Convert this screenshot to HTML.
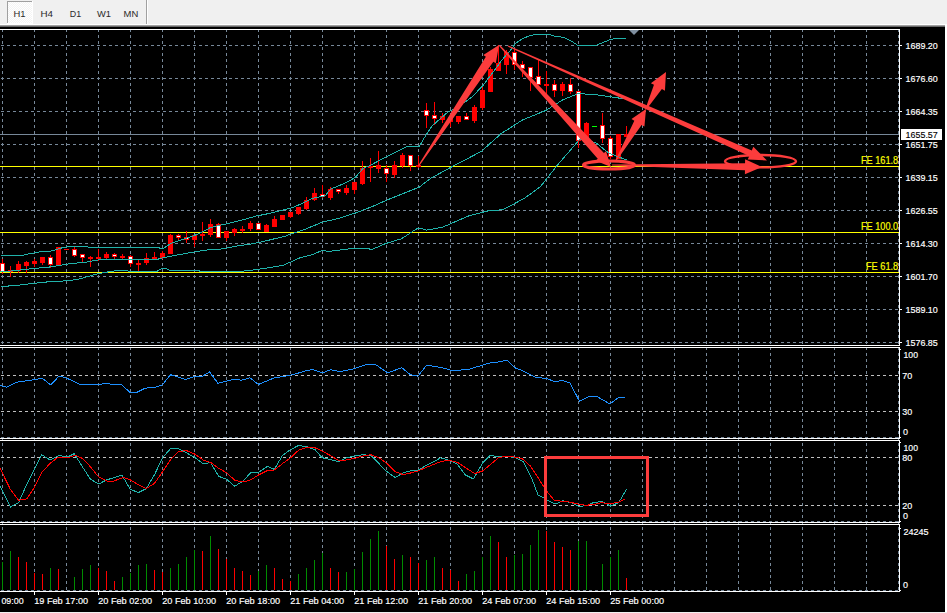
<!DOCTYPE html><html><head><meta charset="utf-8"><style>
html,body{margin:0;padding:0;width:947px;height:613px;overflow:hidden;background:#f0f0f0;}
svg{display:block;position:absolute;left:0;top:0;}
</style></head><body>
<svg width="947" height="613" viewBox="0 0 947 613" font-family='"Liberation Sans", sans-serif'>
<rect x="0" y="0" width="947" height="24" fill="#f0f0f0"/>
<rect x="0" y="24" width="947" height="1" fill="#ffffff"/>
<rect x="0" y="25" width="945" height="1" fill="#a0a0a0"/>
<rect x="0" y="26" width="945" height="1" fill="#6a6a6a"/>
<defs><pattern id="dith" width="2" height="2" patternUnits="userSpaceOnUse"><rect width="2" height="2" fill="#f4f4f4"/><rect width="1" height="1" fill="#ffffff"/><rect x="1" y="1" width="1" height="1" fill="#ffffff"/></pattern></defs>
<rect x="7" y="1" width="26" height="23" fill="url(#dith)"/>
<rect x="7" y="1" width="25" height="1" fill="#a0a0a0"/>
<rect x="7" y="1" width="1" height="22" fill="#a0a0a0"/>
<rect x="7" y="23" width="26" height="1" fill="#ffffff"/>
<rect x="32" y="1" width="1" height="23" fill="#ffffff"/>
<text x="13.5" y="17" font-size="9.8" fill="#2a2a2a" textLength="12" lengthAdjust="spacingAndGlyphs">H1</text>
<text x="40.5" y="17" font-size="9.8" fill="#2a2a2a" textLength="12.5" lengthAdjust="spacingAndGlyphs">H4</text>
<text x="69.8" y="17" font-size="9.8" fill="#2a2a2a" textLength="11.4" lengthAdjust="spacingAndGlyphs">D1</text>
<text x="97" y="17" font-size="9.8" fill="#2a2a2a" textLength="14" lengthAdjust="spacingAndGlyphs">W1</text>
<text x="123.6" y="17" font-size="9.8" fill="#2a2a2a" textLength="14.7" lengthAdjust="spacingAndGlyphs">MN</text>
<rect x="146" y="0" width="1" height="24" fill="#a0a0a0"/>
<rect x="147" y="0" width="1" height="24" fill="#ffffff"/>
<rect x="0" y="27" width="945" height="585" fill="#000000"/>
<rect x="945" y="25" width="2" height="588" fill="#ffffff"/>
<rect x="0" y="612" width="947" height="1" fill="#f0f0f0"/>
<g shape-rendering="crispEdges"><line x1="0" y1="45.5" x2="899" y2="45.5" stroke="#778899" stroke-width="1" stroke-dasharray="3 3" stroke-dashoffset="5"/><line x1="0" y1="78.5" x2="899" y2="78.5" stroke="#778899" stroke-width="1" stroke-dasharray="3 3" stroke-dashoffset="5"/><line x1="0" y1="111.5" x2="899" y2="111.5" stroke="#778899" stroke-width="1" stroke-dasharray="3 3" stroke-dashoffset="5"/><line x1="0" y1="144.5" x2="899" y2="144.5" stroke="#778899" stroke-width="1" stroke-dasharray="3 3" stroke-dashoffset="5"/><line x1="0" y1="177.5" x2="899" y2="177.5" stroke="#778899" stroke-width="1" stroke-dasharray="3 3" stroke-dashoffset="5"/><line x1="0" y1="210.5" x2="899" y2="210.5" stroke="#778899" stroke-width="1" stroke-dasharray="3 3" stroke-dashoffset="5"/><line x1="0" y1="243.5" x2="899" y2="243.5" stroke="#778899" stroke-width="1" stroke-dasharray="3 3" stroke-dashoffset="5"/><line x1="0" y1="276.5" x2="899" y2="276.5" stroke="#778899" stroke-width="1" stroke-dasharray="3 3" stroke-dashoffset="5"/><line x1="0" y1="309.5" x2="899" y2="309.5" stroke="#778899" stroke-width="1" stroke-dasharray="3 3" stroke-dashoffset="5"/><line x1="0" y1="342.5" x2="899" y2="342.5" stroke="#778899" stroke-width="1" stroke-dasharray="3 3" stroke-dashoffset="5"/><line x1="0" y1="437.5" x2="899" y2="437.5" stroke="#778899" stroke-width="1" stroke-dasharray="3 3" stroke-dashoffset="5"/><line x1="0" y1="521.5" x2="899" y2="521.5" stroke="#778899" stroke-width="1" stroke-dasharray="3 3" stroke-dashoffset="5"/><line x1="0" y1="590.5" x2="899" y2="590.5" stroke="#778899" stroke-width="1" stroke-dasharray="3 3" stroke-dashoffset="5"/><line x1="2.5" y1="29" x2="2.5" y2="591" stroke="#778899" stroke-width="1" stroke-dasharray="3 3"/><line x1="34.5" y1="29" x2="34.5" y2="591" stroke="#778899" stroke-width="1" stroke-dasharray="3 3"/><line x1="66.5" y1="29" x2="66.5" y2="591" stroke="#778899" stroke-width="1" stroke-dasharray="3 3"/><line x1="98.5" y1="29" x2="98.5" y2="591" stroke="#778899" stroke-width="1" stroke-dasharray="3 3"/><line x1="130.5" y1="29" x2="130.5" y2="591" stroke="#778899" stroke-width="1" stroke-dasharray="3 3"/><line x1="162.5" y1="29" x2="162.5" y2="591" stroke="#778899" stroke-width="1" stroke-dasharray="3 3"/><line x1="194.5" y1="29" x2="194.5" y2="591" stroke="#778899" stroke-width="1" stroke-dasharray="3 3"/><line x1="226.5" y1="29" x2="226.5" y2="591" stroke="#778899" stroke-width="1" stroke-dasharray="3 3"/><line x1="258.5" y1="29" x2="258.5" y2="591" stroke="#778899" stroke-width="1" stroke-dasharray="3 3"/><line x1="290.5" y1="29" x2="290.5" y2="591" stroke="#778899" stroke-width="1" stroke-dasharray="3 3"/><line x1="322.5" y1="29" x2="322.5" y2="591" stroke="#778899" stroke-width="1" stroke-dasharray="3 3"/><line x1="354.5" y1="29" x2="354.5" y2="591" stroke="#778899" stroke-width="1" stroke-dasharray="3 3"/><line x1="386.5" y1="29" x2="386.5" y2="591" stroke="#778899" stroke-width="1" stroke-dasharray="3 3"/><line x1="418.5" y1="29" x2="418.5" y2="591" stroke="#778899" stroke-width="1" stroke-dasharray="3 3"/><line x1="450.5" y1="29" x2="450.5" y2="591" stroke="#778899" stroke-width="1" stroke-dasharray="3 3"/><line x1="482.5" y1="29" x2="482.5" y2="591" stroke="#778899" stroke-width="1" stroke-dasharray="3 3"/><line x1="514.5" y1="29" x2="514.5" y2="591" stroke="#778899" stroke-width="1" stroke-dasharray="3 3"/><line x1="546.5" y1="29" x2="546.5" y2="591" stroke="#778899" stroke-width="1" stroke-dasharray="3 3"/><line x1="578.5" y1="29" x2="578.5" y2="591" stroke="#778899" stroke-width="1" stroke-dasharray="3 3"/><line x1="610.5" y1="29" x2="610.5" y2="591" stroke="#778899" stroke-width="1" stroke-dasharray="3 3"/><line x1="642.5" y1="29" x2="642.5" y2="591" stroke="#778899" stroke-width="1" stroke-dasharray="3 3"/><line x1="674.5" y1="29" x2="674.5" y2="591" stroke="#778899" stroke-width="1" stroke-dasharray="3 3"/><line x1="706.5" y1="29" x2="706.5" y2="591" stroke="#778899" stroke-width="1" stroke-dasharray="3 3"/><line x1="738.5" y1="29" x2="738.5" y2="591" stroke="#778899" stroke-width="1" stroke-dasharray="3 3"/><line x1="770.5" y1="29" x2="770.5" y2="591" stroke="#778899" stroke-width="1" stroke-dasharray="3 3"/><line x1="802.5" y1="29" x2="802.5" y2="591" stroke="#778899" stroke-width="1" stroke-dasharray="3 3"/><line x1="834.5" y1="29" x2="834.5" y2="591" stroke="#778899" stroke-width="1" stroke-dasharray="3 3"/><line x1="866.5" y1="29" x2="866.5" y2="591" stroke="#778899" stroke-width="1" stroke-dasharray="3 3"/><line x1="898.5" y1="29" x2="898.5" y2="591" stroke="#778899" stroke-width="1" stroke-dasharray="3 3"/><line x1="0" y1="375.5" x2="899" y2="375.5" stroke="#c0c0c0" stroke-width="1" stroke-dasharray="3 3" stroke-dashoffset="5"/><line x1="0" y1="411.5" x2="899" y2="411.5" stroke="#c0c0c0" stroke-width="1" stroke-dasharray="3 3" stroke-dashoffset="5"/><line x1="0" y1="457.5" x2="899" y2="457.5" stroke="#c0c0c0" stroke-width="1" stroke-dasharray="3 3" stroke-dashoffset="5"/><line x1="0" y1="505.5" x2="899" y2="505.5" stroke="#c0c0c0" stroke-width="1" stroke-dasharray="3 3" stroke-dashoffset="5"/></g>
<g shape-rendering="crispEdges">
<rect x="0" y="166" width="899" height="1" fill="#ffff00"/>
<rect x="0" y="232" width="899" height="1" fill="#ffff00"/>
<rect x="0" y="272" width="899" height="1" fill="#ffff00"/>
<rect x="0" y="134" width="899" height="1" fill="#778899"/>
</g>
<g shape-rendering="crispEdges"><rect x="2" y="259" width="1" height="15" fill="#ff0000"/><rect x="0" y="263" width="5" height="9" fill="#ff0000"/><rect x="1" y="264" width="3" height="7" fill="#ffffff"/><rect x="10" y="266" width="1" height="11" fill="#ff0000"/><rect x="8" y="270" width="5" height="2" fill="#ff0000"/><rect x="18" y="261" width="1" height="12" fill="#ff0000"/><rect x="16" y="264" width="5" height="7" fill="#ff0000"/><rect x="26" y="261" width="1" height="12" fill="#ff0000"/><rect x="24" y="262" width="5" height="4" fill="#ff0000"/><rect x="34" y="259" width="1" height="8" fill="#ff0000"/><rect x="32" y="261" width="5" height="3" fill="#ff0000"/><rect x="42" y="257" width="1" height="8" fill="#ff0000"/><rect x="40" y="257" width="5" height="6" fill="#ff0000"/><rect x="50" y="255" width="1" height="13" fill="#ff0000"/><rect x="48" y="257" width="5" height="8" fill="#ff0000"/><rect x="49" y="258" width="3" height="6" fill="#ffffff"/><rect x="58" y="247" width="1" height="19" fill="#ff0000"/><rect x="56" y="247" width="5" height="19" fill="#ff0000"/><rect x="66" y="249" width="1" height="1" fill="#ff0000"/><rect x="64" y="249" width="5" height="1" fill="#ff0000"/><rect x="74" y="247" width="1" height="10" fill="#ff0000"/><rect x="72" y="249" width="5" height="7" fill="#ff0000"/><rect x="73" y="250" width="3" height="5" fill="#ffffff"/><rect x="82" y="254" width="1" height="8" fill="#ff0000"/><rect x="80" y="254" width="5" height="4" fill="#ff0000"/><rect x="81" y="255" width="3" height="2" fill="#ffffff"/><rect x="90" y="256" width="1" height="11" fill="#ff0000"/><rect x="88" y="257" width="5" height="2" fill="#ff0000"/><rect x="98" y="249" width="1" height="12" fill="#ff0000"/><rect x="96" y="257" width="5" height="2" fill="#ff0000"/><rect x="106" y="252" width="1" height="8" fill="#ff0000"/><rect x="104" y="254" width="5" height="4" fill="#ff0000"/><rect x="114" y="253" width="1" height="7" fill="#ff0000"/><rect x="112" y="254" width="5" height="3" fill="#ff0000"/><rect x="113" y="255" width="3" height="1" fill="#ffffff"/><rect x="122" y="254" width="1" height="6" fill="#ff0000"/><rect x="120" y="256" width="5" height="2" fill="#ff0000"/><rect x="130" y="255" width="1" height="12" fill="#ff0000"/><rect x="128" y="256" width="5" height="8" fill="#ff0000"/><rect x="129" y="257" width="3" height="6" fill="#ffffff"/><rect x="138" y="260" width="1" height="11" fill="#ff0000"/><rect x="136" y="263" width="5" height="2" fill="#ff0000"/><rect x="146" y="253" width="1" height="12" fill="#ff0000"/><rect x="144" y="258" width="5" height="5" fill="#ff0000"/><rect x="154" y="252" width="1" height="8" fill="#ff0000"/><rect x="152" y="257" width="5" height="3" fill="#ff0000"/><rect x="162" y="251" width="1" height="8" fill="#ff0000"/><rect x="160" y="253" width="5" height="5" fill="#ff0000"/><rect x="170" y="234" width="1" height="20" fill="#ff0000"/><rect x="168" y="235" width="5" height="19" fill="#ff0000"/><rect x="178" y="234" width="1" height="7" fill="#ff0000"/><rect x="176" y="235" width="5" height="3" fill="#ff0000"/><rect x="177" y="236" width="3" height="1" fill="#ffffff"/><rect x="186" y="231" width="1" height="12" fill="#ff0000"/><rect x="184" y="237" width="5" height="3" fill="#ff0000"/><rect x="185" y="238" width="3" height="1" fill="#ffffff"/><rect x="194" y="235" width="1" height="12" fill="#ff0000"/><rect x="192" y="235" width="5" height="5" fill="#ff0000"/><rect x="202" y="222" width="1" height="19" fill="#ff0000"/><rect x="200" y="234" width="5" height="2" fill="#ff0000"/><rect x="210" y="219" width="1" height="18" fill="#ff0000"/><rect x="208" y="224" width="5" height="11" fill="#ff0000"/><rect x="218" y="223" width="1" height="15" fill="#ff0000"/><rect x="216" y="224" width="5" height="14" fill="#ff0000"/><rect x="217" y="225" width="3" height="12" fill="#ffffff"/><rect x="226" y="231" width="1" height="10" fill="#ff0000"/><rect x="224" y="231" width="5" height="7" fill="#ff0000"/><rect x="234" y="228" width="1" height="8" fill="#ff0000"/><rect x="232" y="229" width="5" height="4" fill="#ff0000"/><rect x="242" y="226" width="1" height="7" fill="#ff0000"/><rect x="240" y="229" width="5" height="2" fill="#ff0000"/><rect x="250" y="221" width="1" height="10" fill="#ff0000"/><rect x="248" y="223" width="5" height="6" fill="#ff0000"/><rect x="258" y="223" width="1" height="7" fill="#ff0000"/><rect x="256" y="223" width="5" height="7" fill="#ff0000"/><rect x="257" y="224" width="3" height="5" fill="#ffffff"/><rect x="266" y="224" width="1" height="8" fill="#ff0000"/><rect x="264" y="225" width="5" height="7" fill="#ff0000"/><rect x="274" y="216" width="1" height="11" fill="#ff0000"/><rect x="272" y="219" width="5" height="8" fill="#ff0000"/><rect x="282" y="215" width="1" height="5" fill="#ff0000"/><rect x="280" y="215" width="5" height="5" fill="#ff0000"/><rect x="290" y="212" width="1" height="6" fill="#ff0000"/><rect x="288" y="212" width="5" height="5" fill="#ff0000"/><rect x="298" y="207" width="1" height="8" fill="#ff0000"/><rect x="296" y="207" width="5" height="7" fill="#ff0000"/><rect x="306" y="197" width="1" height="13" fill="#ff0000"/><rect x="304" y="200" width="5" height="9" fill="#ff0000"/><rect x="314" y="188" width="1" height="13" fill="#ff0000"/><rect x="312" y="193" width="5" height="7" fill="#ff0000"/><rect x="322" y="185" width="1" height="13" fill="#ff0000"/><rect x="320" y="194" width="5" height="3" fill="#ff0000"/><rect x="321" y="195" width="3" height="1" fill="#ffffff"/><rect x="330" y="187" width="1" height="13" fill="#ff0000"/><rect x="328" y="189" width="5" height="9" fill="#ff0000"/><rect x="338" y="189" width="1" height="5" fill="#ff0000"/><rect x="336" y="189" width="5" height="3" fill="#ff0000"/><rect x="337" y="190" width="3" height="1" fill="#ffffff"/><rect x="346" y="185" width="1" height="10" fill="#ff0000"/><rect x="344" y="188" width="5" height="5" fill="#ff0000"/><rect x="354" y="182" width="1" height="12" fill="#ff0000"/><rect x="352" y="182" width="5" height="8" fill="#ff0000"/><rect x="362" y="161" width="1" height="24" fill="#ff0000"/><rect x="360" y="168" width="5" height="16" fill="#ff0000"/><rect x="370" y="158" width="1" height="24" fill="#ff0000"/><rect x="368" y="166" width="5" height="2" fill="#ff0000"/><rect x="378" y="151" width="1" height="22" fill="#ff0000"/><rect x="376" y="165" width="5" height="4" fill="#ff0000"/><rect x="386" y="165" width="1" height="17" fill="#ff0000"/><rect x="384" y="168" width="5" height="6" fill="#ff0000"/><rect x="385" y="169" width="3" height="4" fill="#ffffff"/><rect x="394" y="161" width="1" height="17" fill="#ff0000"/><rect x="392" y="165" width="5" height="10" fill="#ff0000"/><rect x="402" y="153" width="1" height="15" fill="#ff0000"/><rect x="400" y="155" width="5" height="11" fill="#ff0000"/><rect x="410" y="155" width="1" height="16" fill="#ff0000"/><rect x="408" y="155" width="5" height="11" fill="#ff0000"/><rect x="409" y="156" width="3" height="9" fill="#ffffff"/><rect x="418" y="156" width="1" height="12" fill="#ff0000"/><rect x="416" y="165" width="5" height="2" fill="#ff0000"/><rect x="426" y="103" width="1" height="25" fill="#ff0000"/><rect x="424" y="110" width="5" height="6" fill="#ff0000"/><rect x="425" y="111" width="3" height="4" fill="#ffffff"/><rect x="434" y="102" width="1" height="23" fill="#ff0000"/><rect x="432" y="115" width="5" height="4" fill="#ff0000"/><rect x="433" y="116" width="3" height="2" fill="#ffffff"/><rect x="442" y="113" width="1" height="10" fill="#ff0000"/><rect x="440" y="116" width="5" height="4" fill="#ff0000"/><rect x="450" y="117" width="1" height="10" fill="#ff0000"/><rect x="448" y="117" width="5" height="5" fill="#ff0000"/><rect x="458" y="116" width="1" height="8" fill="#ff0000"/><rect x="456" y="116" width="5" height="6" fill="#ff0000"/><rect x="466" y="113" width="1" height="7" fill="#ff0000"/><rect x="464" y="116" width="5" height="4" fill="#ff0000"/><rect x="465" y="117" width="3" height="2" fill="#ffffff"/><rect x="474" y="105" width="1" height="18" fill="#ff0000"/><rect x="472" y="107" width="5" height="14" fill="#ff0000"/><rect x="482" y="87" width="1" height="23" fill="#ff0000"/><rect x="480" y="90" width="5" height="18" fill="#ff0000"/><rect x="490" y="67" width="1" height="25" fill="#ff0000"/><rect x="488" y="69" width="5" height="23" fill="#ff0000"/><rect x="498" y="45" width="1" height="26" fill="#ff0000"/><rect x="496" y="63" width="5" height="8" fill="#ff0000"/><rect x="506" y="50" width="1" height="24" fill="#ff0000"/><rect x="504" y="52" width="5" height="13" fill="#ff0000"/><rect x="514" y="49" width="1" height="21" fill="#ff0000"/><rect x="512" y="52" width="5" height="13" fill="#ff0000"/><rect x="513" y="53" width="3" height="11" fill="#ffffff"/><rect x="522" y="61" width="1" height="16" fill="#ff0000"/><rect x="520" y="64" width="5" height="5" fill="#ff0000"/><rect x="521" y="65" width="3" height="3" fill="#ffffff"/><rect x="530" y="67" width="1" height="24" fill="#ff0000"/><rect x="528" y="67" width="5" height="11" fill="#ff0000"/><rect x="529" y="68" width="3" height="9" fill="#ffffff"/><rect x="538" y="60" width="1" height="25" fill="#ff0000"/><rect x="536" y="76" width="5" height="9" fill="#ff0000"/><rect x="537" y="77" width="3" height="7" fill="#ffffff"/><rect x="546" y="71" width="1" height="23" fill="#ff0000"/><rect x="544" y="84" width="5" height="2" fill="#ff0000"/><rect x="554" y="80" width="1" height="17" fill="#ff0000"/><rect x="552" y="84" width="5" height="7" fill="#ff0000"/><rect x="553" y="85" width="3" height="5" fill="#ffffff"/><rect x="562" y="82" width="1" height="14" fill="#ff0000"/><rect x="560" y="84" width="5" height="7" fill="#ff0000"/><rect x="570" y="78" width="1" height="16" fill="#ff0000"/><rect x="568" y="84" width="5" height="8" fill="#ff0000"/><rect x="569" y="85" width="3" height="6" fill="#ffffff"/><rect x="578" y="91" width="1" height="57" fill="#ff0000"/><rect x="576" y="91" width="5" height="50" fill="#ff0000"/><rect x="577" y="92" width="3" height="48" fill="#ffffff"/><rect x="586" y="122" width="1" height="17" fill="#ff0000"/><rect x="584" y="123" width="5" height="16" fill="#ff0000"/><rect x="592" y="126" width="5" height="1" fill="#00ff00"/><rect x="602" y="113" width="1" height="30" fill="#ff0000"/><rect x="600" y="125" width="5" height="14" fill="#ff0000"/><rect x="601" y="126" width="3" height="12" fill="#ffffff"/><rect x="610" y="136" width="1" height="23" fill="#ff0000"/><rect x="608" y="138" width="5" height="19" fill="#ff0000"/><rect x="609" y="139" width="3" height="17" fill="#ffffff"/><rect x="618" y="134" width="1" height="25" fill="#ff0000"/><rect x="616" y="134" width="5" height="25" fill="#ff0000"/><rect x="626" y="126" width="1" height="11" fill="#ff0000"/><rect x="624" y="134" width="5" height="3" fill="#ff0000"/></g>
<polyline points="0.5,255.5 22.5,255.5 29.5,253.7 39.5,252.0 51.5,251.0 56.5,249.4 64.5,247.2 71.5,246.4 87.1,246.4 88.2,247.4 159.5,247.4 160.0,248.5 163.2,248.5 170.5,243.6 194.8,235.3 203.2,231.6 209.5,228.0 214.8,226.4 227.5,223.7 244.4,219.5 255.0,216.3 270.5,213.2 292.5,207.6 300.5,204.2 312.2,198.3 325.3,195.7 330.5,189.2 346.2,182.6 355.3,177.4 363.2,168.3 369.7,165.7 383.5,158.1 404.5,147.6 409.7,146.0 419.5,146.0 426.6,134.0 431.9,126.1 447.5,112.4 452.2,110.0 466.5,101.0 472.5,96.6 483.5,84.8 495.3,69.2 501.9,60.0 511.0,49.6 515.5,43.5 522.4,38.7 529.2,35.9 535.4,34.3 548.5,34.3 555.3,36.3 563.5,37.3 570.4,40.5 578.6,45.9 582.8,45.5 596.5,45.1 610.2,39.6 615.7,38.4 626.0,38.4" fill="none" stroke="#20b2aa" stroke-width="1" stroke-linejoin="round" shape-rendering="crispEdges"/>
<polyline points="0.5,271.4 14.0,270.9 22.5,269.7 34.5,268.5 51.5,266.8 61.5,265.1 71.5,263.5 86.1,262.2 94.5,260.6 103.0,259.2 157.9,259.2 160.0,258.5 167.4,256.9 175.5,255.3 197.5,251.4 209.3,249.7 222.5,248.9 237.4,246.0 249.2,244.3 261.0,242.1 286.2,235.9 290.5,234.1 306.3,228.8 322.2,222.2 339.6,218.2 355.5,213.0 372.9,206.3 387.1,200.0 419.5,187.0 430.5,178.4 450.5,167.5 481.5,151.3 501.0,133.7 522.5,120.0 545.5,110.6 562.5,100.0 578.5,93.5 597.5,95.0 609.5,96.7 620.5,98.3 626.5,99.0" fill="none" stroke="#20b2aa" stroke-width="1" stroke-linejoin="round" shape-rendering="crispEdges"/>
<polyline points="0.5,286.3 14.0,285.8 30.5,283.7 47.5,281.9 68.5,280.7 79.5,279.0 95.5,274.3 101.5,273.1 110.3,271.5 118.8,270.3 127.2,270.3 128.3,271.5 156.8,271.5 162.1,268.3 165.3,268.3 169.5,270.3 198.9,270.7 200.5,271.7 238.9,271.7 246.2,270.7 256.5,269.6 271.4,267.3 283.2,265.2 290.5,262.1 300.0,257.8 312.7,254.6 322.2,250.4 328.5,251.5 342.8,249.6 353.9,248.3 368.1,248.8 372.1,249.4 385.5,243.6 401.4,238.8 417.2,228.5 419.6,228.2 426.7,230.1 442.3,227.3 469.5,215.6 487.5,211.0 503.0,209.7 524.5,198.3 540.5,186.6 557.5,165.0 579.5,139.6 595.5,142.4 608.5,152.9 626.5,160.0" fill="none" stroke="#20b2aa" stroke-width="1" stroke-linejoin="round" shape-rendering="crispEdges"/>
<polygon points="629,30 639,30 634,35" fill="#8090a0"/>
<polygon points="419.00,166.33 493.33,61.65 495.83,63.31 499.00,45.00 483.34,55.00 485.84,56.66 418.00,165.67" fill="#fc3c3c"/>
<polygon points="499.06,45.91 597.76,158.79 595.70,160.68 611.00,167.00 606.02,151.22 603.95,153.11 499.94,45.09" fill="#fc3c3c"/>
<polygon points="507.76,46.55 749.32,155.97 747.71,159.62 767.00,160.50 753.37,146.82 751.75,150.48 508.24,45.45" fill="#fc3c3c"/>
<polygon points="616.52,160.80 641.58,124.94 644.43,126.60 646.00,109.00 631.47,119.05 634.32,120.71 615.48,160.20" fill="#fc3c3c"/>
<polygon points="646.53,109.29 661.87,89.09 664.95,90.76 666.00,72.00 650.88,83.15 653.96,84.82 645.47,108.71" fill="#fc3c3c"/>
<polygon points="611.99,165.60 744.95,170.27 744.90,174.27 762.00,167.00 745.10,159.27 745.05,163.27 612.01,164.40" fill="#fc3c3c"/>
<ellipse cx="609" cy="165" rx="25.6" ry="4" fill="none" stroke="#fc3c3c" stroke-width="3"/>
<ellipse cx="760.5" cy="161.2" rx="35.5" ry="6.2" fill="none" stroke="#fc3c3c" stroke-width="2.4"/>
<polyline points="0.0,385.5 6.8,387.2 16.9,382.2 33.8,379.8 42.2,378.1 50.7,384.9 59.1,376.1 65.9,377.8 81.1,384.9 98.0,384.9 106.4,383.2 113.2,384.9 121.6,384.9 130.0,392.3 136.8,392.3 145.3,388.2 155.4,387.2 162.2,384.9 170.6,374.7 185.8,379.5 194.3,376.4 202.7,376.1 209.5,372.0 217.9,383.2 233.1,379.5 241.6,380.1 250.0,377.8 258.4,384.5 273.6,378.1 283.8,376.4 293.9,374.4 307.4,370.3 313.3,369.7 322.8,372.8 330.4,369.7 339.9,371.6 353.2,369.0 368.4,364.0 376.0,364.8 387.5,372.8 401.9,367.8 410.3,374.7 417.9,376.2 426.6,365.2 442.6,367.8 452.1,370.5 467.3,369.7 490.1,362.9 497.7,362.1 507.2,360.2 514.8,367.8 520.5,369.7 535.7,377.3 547.1,378.5 554.8,381.9 562.4,380.4 570.0,383.0 579.5,401.3 589.0,396.3 596.6,396.3 609.9,403.9 618.6,397.5 625.1,397.1" fill="none" stroke="#1e90ff" stroke-width="1" stroke-linejoin="round" shape-rendering="crispEdges"/>
<polyline points="0.0,485.6 10.5,507.0 18.6,502.6 26.7,484.5 34.8,468.2 41.8,454.7 49.9,460.0 59.2,455.4 67.4,457.0 74.3,453.6 82.5,467.0 90.6,479.3 98.7,484.0 106.9,479.8 122.0,475.2 130.1,489.1 138.2,492.6 146.3,488.6 154.5,474.7 162.6,457.7 170.7,448.5 178.9,448.9 187.0,453.1 195.1,457.7 203.3,464.0 210.5,462.4 218.6,476.3 226.7,479.3 234.8,486.3 243.0,481.0 251.1,472.4 258.1,472.8 267.4,466.3 274.3,469.4 282.5,455.4 290.6,449.6 298.7,445.4 306.9,446.8 315.0,449.6 322.0,457.7 330.1,459.4 338.2,461.7 346.3,457.7 354.5,456.1 362.6,454.7 370.7,455.4 378.9,463.6 387.0,471.7 395.1,477.5 403.3,472.8 411.4,470.5 417.9,470.2 425.8,465.7 433.8,461.8 440.4,457.8 449.6,460.4 457.5,464.4 465.4,475.0 473.4,478.9 482.6,463.1 490.5,455.2 498.4,457.0 507.7,456.5 515.6,457.8 523.5,461.8 531.4,477.6 538.0,494.8 547.3,500.0 555.2,504.0 563.1,500.8 571.0,502.7 579.0,506.6 586.9,505.3 594.8,502.1 602.7,501.9 610.6,506.1 618.6,502.7 626.5,489.5" fill="none" stroke="#20b2aa" stroke-width="1" stroke-linejoin="round" shape-rendering="crispEdges"/>
<polyline points="0.0,468.2 10.5,489.6 18.6,500.3 26.7,498.9 34.8,486.8 41.8,472.4 49.9,463.6 58.1,457.0 67.4,457.7 75.5,455.4 82.5,458.4 90.6,467.0 98.7,477.0 106.9,481.0 113.8,481.0 123.1,477.5 130.1,479.8 138.2,484.5 146.3,488.6 154.5,483.3 162.6,471.7 170.7,459.4 178.9,451.2 187.0,450.8 195.1,454.3 203.3,460.0 210.5,462.4 218.6,468.2 226.7,472.8 234.8,480.3 243.0,482.1 251.1,479.8 258.1,475.2 267.4,470.5 274.3,470.0 282.5,463.6 290.6,457.7 298.7,450.1 306.9,447.3 315.0,447.8 322.0,450.8 330.1,455.4 339.4,460.8 346.3,460.0 354.5,458.4 362.6,456.1 370.7,454.7 378.9,457.7 387.0,463.6 395.1,471.7 403.3,474.7 411.4,472.8 417.9,471.0 425.8,467.6 433.8,464.4 441.7,461.2 449.6,460.4 457.5,462.3 465.4,467.6 474.7,473.6 482.6,471.0 490.5,464.4 498.4,457.8 506.4,456.0 514.3,457.0 522.2,458.6 530.1,465.7 538.0,477.6 546.0,490.3 553.9,500.0 561.8,501.4 569.7,502.1 577.6,504.0 585.6,505.3 593.5,504.5 601.4,502.7 609.3,503.5 617.2,502.7 625.2,499.2" fill="none" stroke="#ff0000" stroke-width="1" stroke-linejoin="round" shape-rendering="crispEdges"/>
<rect x="545.5" y="457.5" width="102" height="58" fill="none" stroke="#fc3c3c" stroke-width="3"/>
<g shape-rendering="crispEdges"><rect x="2" y="562" width="1" height="28" fill="#008c00"/><rect x="10" y="551" width="1" height="39" fill="#008c00"/><rect x="18" y="557" width="1" height="33" fill="#ff0000"/><rect x="26" y="562" width="1" height="28" fill="#ff0000"/><rect x="34" y="573" width="1" height="17" fill="#ff0000"/><rect x="42" y="574" width="1" height="16" fill="#ff0000"/><rect x="50" y="568" width="1" height="22" fill="#008c00"/><rect x="58" y="569" width="1" height="21" fill="#ff0000"/><rect x="66" y="590" width="1" height="0" fill="#ff0000"/><rect x="74" y="577" width="1" height="13" fill="#008c00"/><rect x="82" y="569" width="1" height="21" fill="#008c00"/><rect x="90" y="565" width="1" height="25" fill="#008c00"/><rect x="98" y="568" width="1" height="22" fill="#ff0000"/><rect x="106" y="571" width="1" height="19" fill="#ff0000"/><rect x="114" y="581" width="1" height="9" fill="#ff0000"/><rect x="122" y="577" width="1" height="13" fill="#008c00"/><rect x="130" y="573" width="1" height="17" fill="#008c00"/><rect x="138" y="565" width="1" height="25" fill="#008c00"/><rect x="146" y="564" width="1" height="26" fill="#008c00"/><rect x="154" y="570" width="1" height="20" fill="#ff0000"/><rect x="162" y="572" width="1" height="18" fill="#ff0000"/><rect x="170" y="568" width="1" height="22" fill="#008c00"/><rect x="178" y="564" width="1" height="26" fill="#008c00"/><rect x="186" y="557" width="1" height="33" fill="#008c00"/><rect x="194" y="550" width="1" height="40" fill="#008c00"/><rect x="202" y="551" width="1" height="39" fill="#ff0000"/><rect x="210" y="536" width="1" height="54" fill="#008c00"/><rect x="218" y="549" width="1" height="41" fill="#ff0000"/><rect x="226" y="559" width="1" height="31" fill="#ff0000"/><rect x="234" y="568" width="1" height="22" fill="#ff0000"/><rect x="242" y="571" width="1" height="19" fill="#ff0000"/><rect x="250" y="575" width="1" height="15" fill="#ff0000"/><rect x="258" y="571" width="1" height="19" fill="#008c00"/><rect x="266" y="565" width="1" height="25" fill="#008c00"/><rect x="274" y="568" width="1" height="22" fill="#ff0000"/><rect x="282" y="579" width="1" height="11" fill="#ff0000"/><rect x="290" y="581" width="1" height="9" fill="#ff0000"/><rect x="298" y="574" width="1" height="16" fill="#008c00"/><rect x="306" y="568" width="1" height="22" fill="#008c00"/><rect x="314" y="560" width="1" height="30" fill="#008c00"/><rect x="322" y="553" width="1" height="37" fill="#008c00"/><rect x="330" y="568" width="1" height="22" fill="#ff0000"/><rect x="338" y="572" width="1" height="18" fill="#ff0000"/><rect x="346" y="572" width="1" height="18" fill="#008c00"/><rect x="354" y="569" width="1" height="21" fill="#008c00"/><rect x="362" y="552" width="1" height="38" fill="#008c00"/><rect x="370" y="539" width="1" height="51" fill="#008c00"/><rect x="378" y="531" width="1" height="59" fill="#008c00"/><rect x="386" y="546" width="1" height="44" fill="#ff0000"/><rect x="394" y="559" width="1" height="31" fill="#ff0000"/><rect x="402" y="555" width="1" height="35" fill="#008c00"/><rect x="410" y="557" width="1" height="33" fill="#ff0000"/><rect x="418" y="563" width="1" height="27" fill="#ff0000"/><rect x="426" y="560" width="1" height="30" fill="#008c00"/><rect x="434" y="557" width="1" height="33" fill="#008c00"/><rect x="442" y="568" width="1" height="22" fill="#ff0000"/><rect x="450" y="570" width="1" height="20" fill="#ff0000"/><rect x="458" y="581" width="1" height="9" fill="#ff0000"/><rect x="466" y="574" width="1" height="16" fill="#008c00"/><rect x="474" y="571" width="1" height="19" fill="#008c00"/><rect x="482" y="557" width="1" height="33" fill="#008c00"/><rect x="490" y="536" width="1" height="54" fill="#008c00"/><rect x="498" y="542" width="1" height="48" fill="#ff0000"/><rect x="506" y="557" width="1" height="33" fill="#ff0000"/><rect x="514" y="555" width="1" height="35" fill="#008c00"/><rect x="522" y="554" width="1" height="36" fill="#008c00"/><rect x="530" y="545" width="1" height="45" fill="#008c00"/><rect x="538" y="530" width="1" height="60" fill="#008c00"/><rect x="546" y="531" width="1" height="59" fill="#ff0000"/><rect x="554" y="542" width="1" height="48" fill="#ff0000"/><rect x="562" y="547" width="1" height="43" fill="#ff0000"/><rect x="570" y="550" width="1" height="40" fill="#ff0000"/><rect x="578" y="541" width="1" height="49" fill="#008c00"/><rect x="586" y="541" width="1" height="49" fill="#008c00"/><rect x="594" y="590" width="1" height="0" fill="#ff0000"/><rect x="602" y="564" width="1" height="26" fill="#008c00"/><rect x="610" y="557" width="1" height="33" fill="#008c00"/><rect x="618" y="550" width="1" height="40" fill="#008c00"/><rect x="626" y="578" width="1" height="12" fill="#ff0000"/></g>
<g shape-rendering="crispEdges"><rect x="0" y="29" width="900" height="1" fill="#ffffff"/><rect x="0" y="345" width="900" height="1" fill="#ffffff"/><rect x="899" y="29" width="1" height="317" fill="#ffffff"/><rect x="0" y="347" width="900" height="1" fill="#ffffff"/><rect x="0" y="438" width="900" height="1" fill="#ffffff"/><rect x="899" y="347" width="1" height="92" fill="#ffffff"/><rect x="0" y="440" width="900" height="1" fill="#ffffff"/><rect x="0" y="522" width="900" height="1" fill="#ffffff"/><rect x="899" y="440" width="1" height="83" fill="#ffffff"/><rect x="0" y="524" width="900" height="1" fill="#ffffff"/><rect x="0" y="591" width="900" height="1" fill="#ffffff"/><rect x="899" y="524" width="1" height="68" fill="#ffffff"/></g>
<g><rect x="900" y="45" width="2" height="1" fill="#ffffff"/><text x="905.5" y="49" font-size="9.5" fill="#ffffff" stroke="#ffffff" stroke-width="0.18" textLength="32.3" lengthAdjust="spacingAndGlyphs">1689.20</text><rect x="900" y="78" width="2" height="1" fill="#ffffff"/><text x="905.5" y="82" font-size="9.5" fill="#ffffff" stroke="#ffffff" stroke-width="0.18" textLength="32.3" lengthAdjust="spacingAndGlyphs">1676.60</text><rect x="900" y="111" width="2" height="1" fill="#ffffff"/><text x="905.5" y="115" font-size="9.5" fill="#ffffff" stroke="#ffffff" stroke-width="0.18" textLength="32.3" lengthAdjust="spacingAndGlyphs">1664.35</text><rect x="900" y="144" width="2" height="1" fill="#ffffff"/><text x="905.5" y="148" font-size="9.5" fill="#ffffff" stroke="#ffffff" stroke-width="0.18" textLength="32.3" lengthAdjust="spacingAndGlyphs">1651.75</text><rect x="900" y="177" width="2" height="1" fill="#ffffff"/><text x="905.5" y="181" font-size="9.5" fill="#ffffff" stroke="#ffffff" stroke-width="0.18" textLength="32.3" lengthAdjust="spacingAndGlyphs">1639.15</text><rect x="900" y="210" width="2" height="1" fill="#ffffff"/><text x="905.5" y="214" font-size="9.5" fill="#ffffff" stroke="#ffffff" stroke-width="0.18" textLength="32.3" lengthAdjust="spacingAndGlyphs">1626.55</text><rect x="900" y="243" width="2" height="1" fill="#ffffff"/><text x="905.5" y="247" font-size="9.5" fill="#ffffff" stroke="#ffffff" stroke-width="0.18" textLength="32.3" lengthAdjust="spacingAndGlyphs">1614.30</text><rect x="900" y="276" width="2" height="1" fill="#ffffff"/><text x="905.5" y="280" font-size="9.5" fill="#ffffff" stroke="#ffffff" stroke-width="0.18" textLength="32.3" lengthAdjust="spacingAndGlyphs">1601.70</text><rect x="900" y="309" width="2" height="1" fill="#ffffff"/><text x="905.5" y="313" font-size="9.5" fill="#ffffff" stroke="#ffffff" stroke-width="0.18" textLength="32.3" lengthAdjust="spacingAndGlyphs">1589.10</text><rect x="900" y="342" width="2" height="1" fill="#ffffff"/><text x="905.5" y="346" font-size="9.5" fill="#ffffff" stroke="#ffffff" stroke-width="0.18" textLength="32.3" lengthAdjust="spacingAndGlyphs">1576.85</text><rect x="901" y="129" width="41" height="11" fill="#ffffff"/><text x="905.5" y="138" font-size="9.5" fill="#000000" stroke="#000000" stroke-width="0.12" textLength="32.3" lengthAdjust="spacingAndGlyphs">1655.57</text><rect x="900" y="349" width="1" height="1" fill="#ffffff"/><text x="903.5" y="358" font-size="9.5" fill="#ffffff" stroke="#ffffff" stroke-width="0.18" textLength="14.5" lengthAdjust="spacingAndGlyphs">100</text><text x="902.3" y="379" font-size="9.5" fill="#ffffff" stroke="#ffffff" stroke-width="0.18" textLength="10" lengthAdjust="spacingAndGlyphs">70</text><text x="902.3" y="415" font-size="9.5" fill="#ffffff" stroke="#ffffff" stroke-width="0.18" textLength="10" lengthAdjust="spacingAndGlyphs">30</text><rect x="900" y="437" width="1" height="1" fill="#ffffff"/><text x="903" y="435" font-size="9.5" fill="#ffffff" stroke="#ffffff" stroke-width="0.18" textLength="5" lengthAdjust="spacingAndGlyphs">0</text><rect x="900" y="442" width="1" height="1" fill="#ffffff"/><text x="903.5" y="451" font-size="9.5" fill="#ffffff" stroke="#ffffff" stroke-width="0.18" textLength="14.5" lengthAdjust="spacingAndGlyphs">100</text><text x="902.3" y="461" font-size="9.5" fill="#ffffff" stroke="#ffffff" stroke-width="0.18" textLength="10" lengthAdjust="spacingAndGlyphs">80</text><text x="902.3" y="509" font-size="9.5" fill="#ffffff" stroke="#ffffff" stroke-width="0.18" textLength="10" lengthAdjust="spacingAndGlyphs">20</text><rect x="900" y="521" width="1" height="1" fill="#ffffff"/><text x="903" y="519" font-size="9.5" fill="#ffffff" stroke="#ffffff" stroke-width="0.18" textLength="5" lengthAdjust="spacingAndGlyphs">0</text><rect x="900" y="528" width="1" height="1" fill="#ffffff"/><text x="903.5" y="535" font-size="9.5" fill="#ffffff" stroke="#ffffff" stroke-width="0.18" textLength="25" lengthAdjust="spacingAndGlyphs">24245</text><rect x="900" y="590" width="1" height="1" fill="#ffffff"/><text x="903" y="588" font-size="9.5" fill="#ffffff" stroke="#ffffff" stroke-width="0.18" textLength="5" lengthAdjust="spacingAndGlyphs">0</text><text x="861" y="164" font-size="10" fill="#ffff00" stroke="#ffff00" stroke-width="0.18" textLength="37.2" lengthAdjust="spacingAndGlyphs">FE 161.8</text><text x="861" y="230" font-size="10" fill="#ffff00" stroke="#ffff00" stroke-width="0.18" textLength="37.2" lengthAdjust="spacingAndGlyphs">FE 100.0</text><text x="866" y="270" font-size="10" fill="#ffff00" stroke="#ffff00" stroke-width="0.18" textLength="32.2" lengthAdjust="spacingAndGlyphs">FE 61.8</text><text x="1.4" y="604" font-size="9.5" fill="#ffffff" stroke="#ffffff" stroke-width="0.18" textLength="22.3" lengthAdjust="spacingAndGlyphs">09:00</text><rect x="34" y="592" width="1" height="3" fill="#ffffff"/><text x="34.2" y="604" font-size="9.5" fill="#ffffff" stroke="#ffffff" stroke-width="0.18" textLength="54" lengthAdjust="spacingAndGlyphs">19 Feb 17:00</text><rect x="98" y="592" width="1" height="3" fill="#ffffff"/><text x="98.2" y="604" font-size="9.5" fill="#ffffff" stroke="#ffffff" stroke-width="0.18" textLength="54" lengthAdjust="spacingAndGlyphs">20 Feb 02:00</text><rect x="162" y="592" width="1" height="3" fill="#ffffff"/><text x="162.2" y="604" font-size="9.5" fill="#ffffff" stroke="#ffffff" stroke-width="0.18" textLength="54" lengthAdjust="spacingAndGlyphs">20 Feb 10:00</text><rect x="226" y="592" width="1" height="3" fill="#ffffff"/><text x="226.2" y="604" font-size="9.5" fill="#ffffff" stroke="#ffffff" stroke-width="0.18" textLength="54" lengthAdjust="spacingAndGlyphs">20 Feb 18:00</text><rect x="290" y="592" width="1" height="3" fill="#ffffff"/><text x="290.2" y="604" font-size="9.5" fill="#ffffff" stroke="#ffffff" stroke-width="0.18" textLength="54" lengthAdjust="spacingAndGlyphs">21 Feb 04:00</text><rect x="354" y="592" width="1" height="3" fill="#ffffff"/><text x="354.2" y="604" font-size="9.5" fill="#ffffff" stroke="#ffffff" stroke-width="0.18" textLength="54" lengthAdjust="spacingAndGlyphs">21 Feb 12:00</text><rect x="418" y="592" width="1" height="3" fill="#ffffff"/><text x="418.2" y="604" font-size="9.5" fill="#ffffff" stroke="#ffffff" stroke-width="0.18" textLength="54" lengthAdjust="spacingAndGlyphs">21 Feb 20:00</text><rect x="482" y="592" width="1" height="3" fill="#ffffff"/><text x="482.2" y="604" font-size="9.5" fill="#ffffff" stroke="#ffffff" stroke-width="0.18" textLength="54" lengthAdjust="spacingAndGlyphs">24 Feb 07:00</text><rect x="546" y="592" width="1" height="3" fill="#ffffff"/><text x="546.2" y="604" font-size="9.5" fill="#ffffff" stroke="#ffffff" stroke-width="0.18" textLength="54" lengthAdjust="spacingAndGlyphs">24 Feb 15:00</text><rect x="610" y="592" width="1" height="3" fill="#ffffff"/><text x="610.2" y="604" font-size="9.5" fill="#ffffff" stroke="#ffffff" stroke-width="0.18" textLength="54" lengthAdjust="spacingAndGlyphs">25 Feb 00:00</text></g>
</svg></body></html>
